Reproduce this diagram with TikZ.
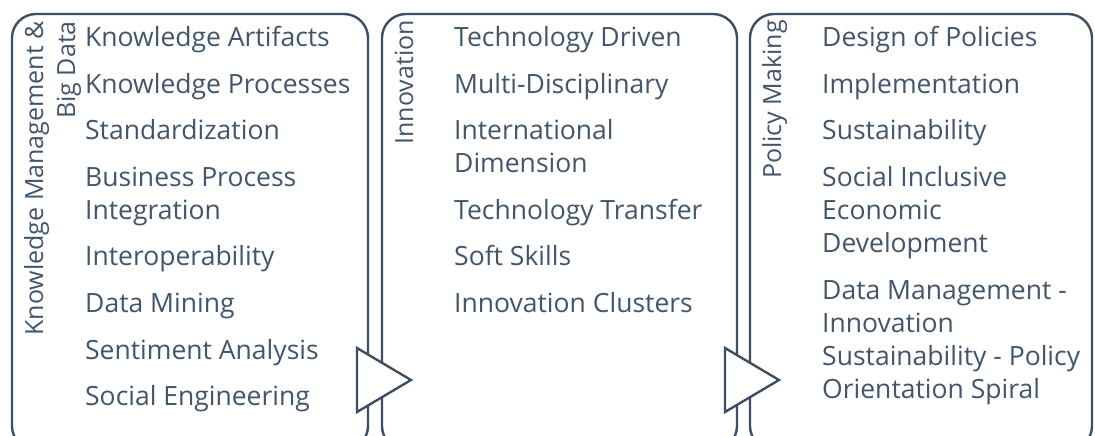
\documentclass[tikz,border=0pt]{standalone}
\usepackage{fontspec}
\setmainfont{Open Sans}
\definecolor{bordc}{HTML}{3B4F66}
\definecolor{txtc}{HTML}{3E566F}
\newcommand\ltab[1]{\vtop{\halign{##\hfil\cr#1\crcr}}}
\newcommand\rtab[1]{\vtop{\halign{\hfil##\cr#1\crcr}}}
\begin{document}
\begin{tikzpicture}[x=1pt,y=-1pt,
  panel/.style={draw=bordc,line width=2.4pt,rounded corners=24pt},
  item/.style={anchor=base west,inner sep=0pt,text=txtc,font=\fontsize{26.5}{33}\selectfont},
  side/.style={anchor=base east,inner sep=0pt,text=txtc,rotate=90,font=\fontsize{25}{32}\selectfont},
  chev/.style={draw=bordc,fill=white,line width=2.4pt,line join=miter}]
\useasboundingbox (0,0) rectangle (1095,436);
\begin{scope}
\clip (0,0) rectangle (1095,436);
\draw[panel] (12,14) rectangle (368,450);
\draw[panel] (382,14) rectangle (737,450);
\draw[panel] (750,14) rectangle (1092,450);
\end{scope}
% side labels
\node[side] (s1) at (43,21) {\rtab{Knowledge Management \&\cr Big Data}};
\node[side] (s2) at (413,20) {Innovation};
\node[side] (s3) at (781,20) {Policy Making};
% box 1 items
\node[item] (a1) at (85,47) {Knowledge Artifacts};
\node[item] (a2) at (85,93) {Knowledge Processes};
\node[item] (a3) at (85,139) {Standardization};
\node[item] (a4) at (85,186) {\ltab{Business Process\cr Integration}};
\node[item] (a5) at (85,265) {Interoperability};
\node[item] (a6) at (85,312) {Data Mining};
\node[item] (a7) at (85,359) {Sentiment Analysis};
\node[item] (a8) at (85,405) {Social Engineering};
% box 2 items
\node[item] (b1) at (454,47) {Technology Driven};
\node[item] (b2) at (454,93) {Multi-Disciplinary};
\node[item] (b3) at (454,139) {\ltab{International\cr Dimension}};
\node[item] (b4) at (454,219) {Technology Transfer};
\node[item] (b5) at (454,265) {Soft Skills};
\node[item] (b6) at (454,312) {Innovation Clusters};
% box 3 items
\node[item] (c1) at (822,47) {Design of Policies};
\node[item] (c2) at (822,93) {Implementation};
\node[item] (c3) at (822,139) {Sustainability};
\node[item] (c4) at (822,186) {\ltab{Social Inclusive\cr Economic\cr Development}};
\node[item] (c5) at (822,299) {\ltab{Data Management -\cr Innovation\cr Sustainability - Policy\cr Orientation Spiral}};
% chevrons
\draw[chev] (357,348) -- (411,380) -- (357,412) -- cycle;
\draw[chev] (725,348) -- (779,380) -- (725,412) -- cycle;
\end{tikzpicture}
\end{document}
